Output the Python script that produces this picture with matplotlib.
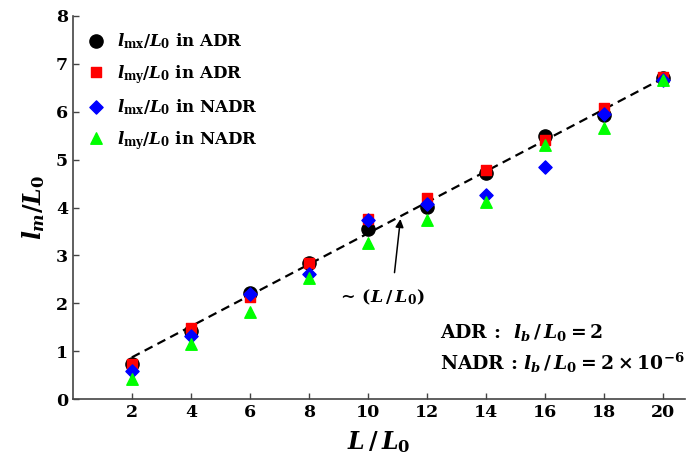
import matplotlib
matplotlib.use("Agg")
import matplotlib.pyplot as plt

x = [2, 4, 6, 8, 10, 12, 14, 16, 18, 20]
lmx_adr = [0.74, 1.42, 2.21, 2.84, 3.55, 4.02, 4.73, 5.49, 5.93, 6.70]
lmy_adr = [0.73, 1.48, 2.14, 2.84, 3.77, 4.19, 4.78, 5.41, 6.08, 6.72]
lmx_nadr = [0.58, 1.32, 2.19, 2.61, 3.74, 4.07, 4.26, 4.85, 5.95, 6.66]
lmy_nadr = [0.41, 1.15, 1.82, 2.52, 3.26, 3.74, 4.11, 5.30, 5.66, 6.66]
fit_x = [2, 20]
fit_y = [0.87, 6.70]
xticks = [2, 4, 6, 8, 10, 12, 14, 16, 18, 20]
yticks = [0, 1, 2, 3, 4, 5, 6, 7, 8]

plt.rcParams['font.family'] = 'DejaVu Serif'
plt.rcParams['font.weight'] = 'bold'
plt.rcParams['mathtext.fontset'] = 'custom'
plt.rcParams['mathtext.rm'] = 'DejaVu Serif:bold'
plt.rcParams['mathtext.bf'] = 'DejaVu Serif:bold'
plt.rcParams['mathtext.it'] = 'DejaVu Serif:bold:italic'

fig = plt.figure(figsize=(6.87, 4.70), dpi=100)
ax = fig.add_axes([0.106, 0.151, 0.891, 0.815])

ax.plot(fit_x, fit_y, ls=(0, (4, 2.5)), color='black', lw=1.6, zorder=1)
ax.scatter(x, lmx_adr, s=90, marker='o', color='black', label=r'$l_{\mathrm{mx}}/L_0$ in ADR', zorder=2)
ax.scatter(x, lmy_adr, s=58, marker='s', color='#ff0000', label=r'$l_{\mathrm{my}}/L_0$ in ADR', zorder=3)
ax.scatter(x, lmx_nadr, s=45, marker='D', color='#0000ff', label=r'$l_{\mathrm{mx}}/L_0$ in NADR', zorder=4)
ax.scatter(x, lmy_nadr, s=68, marker='^', color='#00ff00', label=r'$l_{\mathrm{my}}/L_0$ in NADR', zorder=5)

ax.set_xlim(0, 20.74)
ax.set_ylim(0, 8)
ax.set_xticks(xticks)
ax.set_yticks(yticks)
for s in ['top', 'right']:
    ax.spines[s].set_visible(False)
for s in ['left', 'bottom']:
    ax.spines[s].set_color('#444444')
    ax.spines[s].set_linewidth(1.2)
ax.tick_params(direction='in', length=4, width=1, colors='#444444', labelcolor='black', labelsize=12.5)
for lab in ax.get_xticklabels() + ax.get_yticklabels():
    lab.set_fontweight('bold')

ax.set_xlabel(r'$L\,/\,L_0$', fontsize=17, labelpad=6)
ax.set_ylabel(r'$l_m/L_0$', fontsize=17, labelpad=6)

ax.annotate(r'$\sim\,(L\,/\,L_0)$', xy=(11.1, 3.76), xytext=(10.45, 2.12),
            fontsize=12.5, ha='center', va='center',
            arrowprops=dict(arrowstyle='-|>', color='black', lw=1.1, shrinkA=9, shrinkB=0,
                            mutation_scale=12, relpos=(0.62, 0.5)))

ax.text(12.45, 1.38, r'ADR :  $l_b\,/\,L_0 = 2$', fontsize=13.5, va='center', ha='left')
ax.text(12.45, 0.75, r'NADR : $l_b\,/\,L_0 = 2\times10^{-6}$', fontsize=13.5, va='center', ha='left')

leg = ax.legend(loc='upper left', bbox_to_anchor=(0.0, 0.985), frameon=False, fontsize=12,
                labelspacing=0.7, handletextpad=0.45, handlelength=1.6, borderaxespad=0.3,
                borderpad=0.3, scatteryoffsets=[0.5])

fig.savefig('out.png', dpi=100)
